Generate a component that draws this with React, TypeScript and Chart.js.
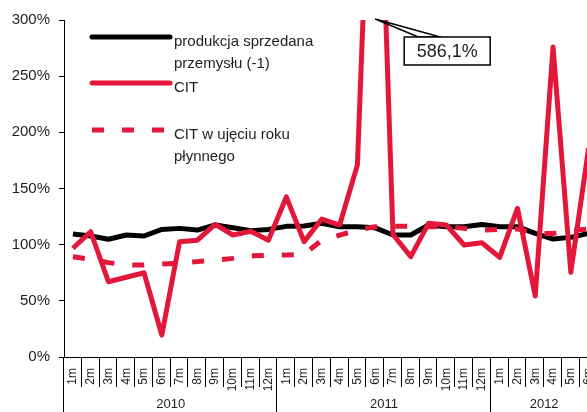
import React, { useEffect, useRef } from 'react';
import { Chart, registerables } from 'chart.js';

Chart.register(...registerables);

const years = ['2010', '2011', '2012'];
const monthsPerYear = [12, 12, 6];
const monthLabels: string[] = [];
monthsPerYear.forEach((n) => {
  for (let m = 1; m <= n; m++) monthLabels.push(m + 'm');
});

const production = [
  109.5, 107.7, 104.8, 108.6, 107.7, 113.6, 114.5, 113, 117.5, 115, 112.5, 113.6,
  116.3, 116.6, 119, 116, 116, 115, 108.6, 108.6, 117.5, 116, 116, 118,
  116, 116, 110, 105, 106.5, 110,
];
const cit = [
  96.8, 111.5, 67, 71, 75, 19.6, 102.7, 104, 118, 108.6, 112, 104,
  142.5, 102.7, 122.8, 117.5, 171, 586.1, 109, 89.3, 119, 117.5, 99.7, 101.7,
  88.7, 132.4, 54.3, 276, 75.4, 186,
];
const citRolling = [
  89.3, 87, 84, 82, 82, 82.8, 83.5, 84.9, 86.3, 87.8, 90, 90.5,
  90.8, 91.5, 104, 108.5, 113, 116, 116.5, 116.5, 116, 116, 114.5, 113,
  113.6, 114, 110, 110, 112.5, 114,
];
const calloutIndex = 17;
const calloutText = '586,1%';
const legendItems = [
  { lines: ['produkcja sprzedana', 'przemysłu (-1)'], color: '#000000', dash: false },
  { lines: ['CIT'], color: '#E3173A', dash: false },
  { lines: ['CIT w ujęciu roku', 'płynnego'], color: '#E3173A', dash: true },
];

const FONT = '"Liberation Sans", Arial, sans-serif';
const RED = '#E3173A';
const TEXT = '#1e1e1e';

const decorations = {
  id: 'decorations',
  afterDraw(chart: any) {
    const { ctx, chartArea, scales } = chart;
    const xs = scales.x;
    const n = monthLabels.length;
    const step = (xs.right - xs.left) / n;
    const H = chart.height;
    ctx.save();
    ctx.strokeStyle = '#000';
    ctx.lineWidth = 1;
    for (let i = 1; i <= n; i++) {
      const px = Math.round(xs.left + i * step) - 0.5;
      ctx.beginPath();
      ctx.moveTo(px, chartArea.bottom);
      ctx.lineTo(px, chartArea.bottom + 30);
      ctx.stroke();
    }
    const lx = Math.round(xs.left) - 0.5;
    ctx.beginPath();
    ctx.moveTo(lx, chartArea.bottom);
    ctx.lineTo(lx, H);
    ctx.stroke();
    let start = 0;
    ctx.font = '13px ' + FONT;
    ctx.fillStyle = TEXT;
    ctx.textAlign = 'center';
    ctx.textBaseline = 'alphabetic';
    years.forEach((yr, k) => {
      const left = xs.left + start * step;
      const right = xs.left + (start + monthsPerYear[k]) * step;
      if (k > 0) {
        const px = Math.round(left) - 0.5;
        ctx.beginPath();
        ctx.moveTo(px, chartArea.bottom);
        ctx.lineTo(px, H);
        ctx.stroke();
      }
      ctx.fillText(yr, (left + right) / 2, 408);
      start += monthsPerYear[k];
    });
    const lxs = 92, lxe = 170, tx = 174;
    const rows = [37, 83, 130];
    legendItems.forEach((it, k) => {
      const ly = rows[k];
      ctx.save();
      ctx.strokeStyle = it.color;
      ctx.lineWidth = 5;
      if (it.dash) {
        ctx.setLineDash([12, 18]);
        ctx.lineCap = 'butt';
      } else {
        ctx.lineCap = 'round';
      }
      ctx.beginPath();
      ctx.moveTo(lxs, ly);
      ctx.lineTo(lxe, ly);
      ctx.stroke();
      ctx.restore();
      ctx.font = '15px ' + FONT;
      ctx.fillStyle = TEXT;
      ctx.textAlign = 'left';
      ctx.textBaseline = 'alphabetic';
      it.lines.forEach((t, j) => ctx.fillText(t, tx, ly + 9 + j * 22));
    });
    const px = xs.getPixelForValue(calloutIndex);
    const py = chartArea.top - 1;
    const bx = px + 29, by = py + 18, bw = 86, bh = 28;
    ctx.strokeStyle = '#000';
    ctx.lineWidth = 1.5;
    ctx.fillStyle = '#fff';
    ctx.beginPath();
    ctx.moveTo(px, py);
    ctx.lineTo(px + 43, by);
    ctx.lineTo(px + 65, by);
    ctx.closePath();
    ctx.fill();
    ctx.stroke();
    ctx.fillRect(bx, by, bw, bh);
    ctx.strokeRect(bx, by, bw, bh);
    ctx.fillStyle = TEXT;
    ctx.font = '18px ' + FONT;
    ctx.textAlign = 'center';
    ctx.textBaseline = 'middle';
    ctx.fillText(calloutText, bx + bw / 2, by + bh / 2 + 1);
    ctx.restore();
  },
};

export default function App() {
  const ref = useRef<HTMLCanvasElement | null>(null);
  useEffect(() => {
    if (!ref.current) return;
    const chart = new Chart(ref.current, {
      type: 'line',
      data: {
        labels: monthLabels,
        datasets: [
          {
            label: 'CIT',
            data: cit,
            borderColor: RED,
            borderWidth: 5,
            pointRadius: 0,
            tension: 0,
            borderJoinStyle: 'round',
            clip: 0,
            order: 0,
          },
          {
            label: 'CIT w ujęciu roku płynnego',
            data: citRolling,
            borderColor: RED,
            borderWidth: 5,
            borderDash: [12, 18],
            pointRadius: 0,
            tension: 0,
            clip: 0,
            order: 1,
          },
          {
            label: 'produkcja sprzedana przemysłu (-1)',
            data: production,
            borderColor: '#000',
            borderWidth: 5,
            pointRadius: 0,
            tension: 0,
            borderJoinStyle: 'round',
            clip: 0,
            order: 2,
          },
        ],
      },
      options: {
        responsive: false,
        animation: false,
        layout: { padding: { top: 20, left: 0, right: 0, bottom: 0 } },
        plugins: { legend: { display: false }, tooltip: { enabled: false } },
        scales: {
          x: {
            offset: true,
            grid: { display: false, offset: true },
            border: { display: true, color: '#000', width: 1 },
            ticks: {
              autoSkip: false,
              minRotation: 90,
              maxRotation: 90,
              padding: 3,
              color: TEXT,
              font: { family: FONT, size: 12 },
            },
            afterFit: (s: any) => {
              s.height = 55;
            },
          },
          y: {
            min: 0,
            max: 300,
            grid: { drawOnChartArea: false, drawTicks: true, tickLength: 5, color: '#000' },
            border: { display: true, color: '#000', width: 1 },
            ticks: {
              stepSize: 50,
              padding: 9,
              color: TEXT,
              font: { family: FONT, size: 15 },
              callback: (v: any) => v + '%',
            },
            afterFit: (s: any) => {
              s.width = 64;
            },
          },
        },
      },
      plugins: [decorations],
    });
    return () => chart.destroy();
  }, []);
  return (
    <div style={{ position: 'fixed', left: 0, top: 0, width: 587, height: 412, overflow: 'hidden', background: '#fff' }}>
      <canvas ref={ref} width={606} height={412} style={{ display: 'block' }} />
    </div>
  );
}
